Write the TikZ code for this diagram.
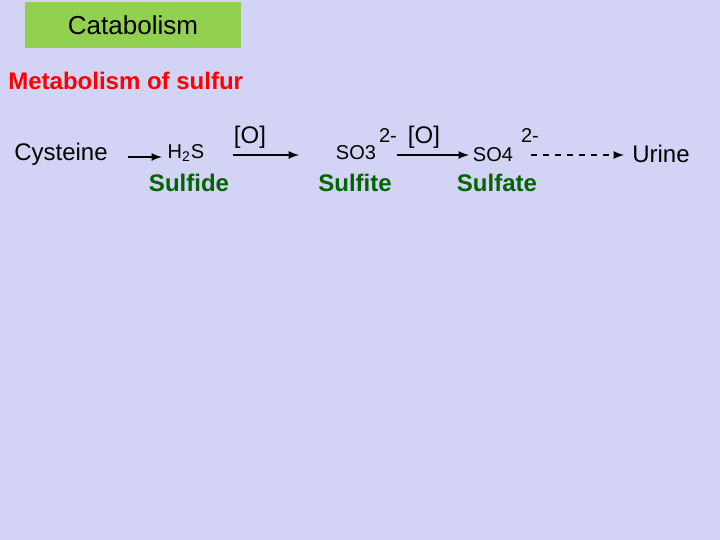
\documentclass[tikz,border=0pt]{standalone}
\usepackage{fontspec}
\setmainfont{Liberation Sans}
\definecolor{bg}{RGB}{211,211,245}
\definecolor{titlegreen}{RGB}{146,208,80}
\definecolor{dgreen}{RGB}{0,100,0}
\begin{document}
\begin{tikzpicture}[x=0.5pt,y=-0.5pt,
  lbl/.style={inner sep=0pt,anchor=center,font=\fontsize{12}{14}\selectfont},
  sm/.style={inner sep=0pt,anchor=center,font=\fontsize{10}{12}\selectfont},
  nm/.style={inner sep=0pt,anchor=center,text=dgreen,font=\bfseries\fontsize{12}{14}\selectfont},
  arr/.style={-latex,thick}]
\fill[bg] (0,0) rectangle (720,540);
\useasboundingbox (0,0) rectangle (720,540);
\node[fill=titlegreen,minimum width=108pt,minimum height=23pt,inner sep=0pt,font=\fontsize{13}{15}\selectfont] (title) at (133,25) {Catabolism};
\node[inner sep=0pt,anchor=west,text=red,font=\bfseries\fontsize{12}{14}\selectfont] (meta) at (8,81) {Metabolism of sulfur};
\node[lbl] (cys) at (61,154) {Cysteine};
\node[sm] (h2s) at (186,153) {H\textsubscript{2}S};
\node[lbl] (o1) at (250,137) {[O]};
\node[nm] (sulfide) at (189,183) {Sulfide};
\node[sm] (so3) at (356,153) {SO3};
\node[sm] (c1) at (388,136) {2-};
\node[lbl] (o2) at (424,137) {[O]};
\node[nm] (sulfite) at (355,183) {Sulfite};
\node[sm] (so4) at (493,155) {SO4};
\node[sm] (c2) at (530,136) {2-};
\node[nm] (sulfate) at (497,183) {Sulfate};
\node[lbl] (urine) at (661,154) {Urine};
\coordinate (a1s) at (128,157); \coordinate (a1e) at (162,157);
\coordinate (a2s) at (233,155); \coordinate (a2e) at (299,155);
\coordinate (a3s) at (397,155); \coordinate (a3e) at (469,155);
\coordinate (a4s) at (531,155); \coordinate (a4e) at (624,155);
\draw[arr] (a1s) -- (a1e);
\draw[arr] (a2s) -- (a2e);
\draw[arr] (a3s) -- (a3e);
\draw[arr,dashed] (a4s) -- (a4e);
\end{tikzpicture}
\end{document}
